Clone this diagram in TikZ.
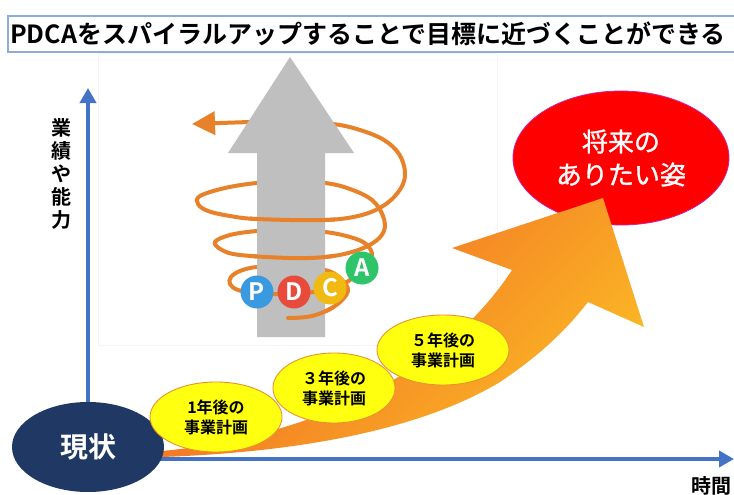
\documentclass[tikz,border=0pt]{standalone}
\usepackage{fontspec}
\setmainfont{Noto Sans CJK JP}[BoldFont={* Bold}]
\newfontfamily\heavyjp{Noto Sans CJK JP}[FakeBold=1.2]
\usetikzlibrary{arrows.meta,shapes.geometric}

\definecolor{axisblue}{HTML}{4472C4}
\definecolor{titleline}{HTML}{8FAADC}
\definecolor{navy}{HTML}{1F3864}
\definecolor{spiralorange}{HTML}{E8822A}
\definecolor{shaftgray}{HTML}{BFBFBF}
\definecolor{planyellow}{HTML}{FFFF10}
\definecolor{planedge}{HTML}{E8922E}
\definecolor{goalred}{HTML}{FF0000}
\definecolor{goaledge}{HTML}{D4209C}
\definecolor{pblue}{HTML}{3A9AE0}
\definecolor{dred}{HTML}{E84A3C}
\definecolor{cyellow}{HTML}{F0BA12}
\definecolor{agreen}{HTML}{2DC46A}
\definecolor{growlow}{HTML}{F06224}
\definecolor{growhigh}{HTML}{FBB925}

% course of the helix around the grey arrow, bottom to top
\newcommand{\spiralcourse}{plot[smooth,tension=0.6] coordinates {
 (288,318) (312,316) (335,306) (348,291) (340,278) (325,270) (290,266)
 (257,267) (240,271) (231,277) (230,284) (238,290) (257,293) (293,294)
 (330,289) (350,280) (362,268) (372,256) (366,244) (350,237) (325,232)
 (290,230) (257,231) (230,235) (215,242) (222,250) (240,255) (290,258)
 (325,257) (352,252) (373,243) (384,231) (383,216) (372,200) (350,189)
 (325,183) (290,182) (257,183) (225,188) (200,196) (198,204) (208,211)
 (230,216) (257,219) (325,220) (362,215) (386,204) (401,188) (405,172)
 (399,154) (384,140) (360,130) (333,124) (290,121) (250,122) (192,124)}}

\begin{document}
\begin{tikzpicture}[x=1pt,y=-1pt,
  axisline/.style={draw=axisblue,line width=3.6pt,-{Triangle[length=15pt,width=16pt]}},
  axislabel/.style={font=\bfseries\fontsize{20}{23}\selectfont,align=center,inner sep=0pt},
  spiralline/.style={draw=spiralorange,line width=4pt,line cap=round},
  pdcadot/.style={circle,minimum size=33pt,inner sep=0pt,text=white,
    font=\bfseries\fontsize{24}{24}\selectfont},
  planoval/.style={ellipse,draw=planedge,line width=0.9pt,fill=planyellow,inner sep=0pt,
    align=center,font=\bfseries\fontsize{16}{20}\selectfont},
]
\useasboundingbox (0,0) rectangle (734,495);
\fill[white] (0,0) rectangle (734,495);

% faint panel behind the PDCA graphic
\draw[black!4,line width=0.6pt] (98,53) rectangle (497,345);

% headline
\draw[titleline,line width=1.5pt,fill=white] (8,16) rectangle (745,52);
\node[inner sep=0pt,font=\bfseries\fontsize{25}{25}\selectfont] (title) at (368,34)
  {PDCAをスパイラルアップすることで目標に近づくことができる};

% axes
\coordinate (origin) at (88,459);
\coordinate (ytop) at (88,88);
\coordinate (xend) at (734,459);
\draw[axisline] (origin) -- (ytop);
\draw[axisline] (origin) -- (xend);
\node[axislabel] (ylabel) at (61,174) {業\\績\\や\\能\\力};
\node[axislabel] (xlabel) at (711,486) {時間};

% helix: full course first, the grey arrow hides its rear parts
\draw[spiralline,-{Triangle[length=23pt,width=23pt]}] \spiralcourse;
\fill[shaftgray] (290,57) -- (354,153) -- (325,153) -- (325,337)
  -- (257,337) -- (257,153) -- (228,153) -- cycle;
% front parts of the helix pass over the arrow
\begin{scope}
  \clip (250,305) rectangle (335,332)
        (250,280) rectangle (335,304)
        (250,246) rectangle (335,261)
        (250,209) rectangle (335,226);
  \draw[spiralline] \spiralcourse;
\end{scope}
\node[pdcadot,fill=pblue]   (P) at (257,292) {P};
\node[pdcadot,fill=dred]    (D) at (294,292) {D};
\node[pdcadot,fill=cyellow] (C) at (330,288) {C};
\node[pdcadot,fill=agreen]  (A) at (362,268) {A};

% goal
\node[ellipse,fill=goalred,draw=goaledge,line width=0.8pt,minimum width=216pt,
  minimum height=134pt,inner sep=0pt,text=white,align=center,
  font=\heavyjp\fontsize{26}{33}\selectfont] (goal) at (621,158) {将来の\\ありたい姿};

% growth arrow from the present state to the goal
\shade[left color=growlow,right color=growhigh,shading angle=45]
  (162,451) .. controls (300,438) and (440,380) .. (512,270)
  -- (452,248) -- (603,198) -- (644,327) -- (588,302)
  .. controls (570,325) and (545,352) .. (500,382)
  .. controls (420,430) and (300,452) .. (162,457) -- cycle;

% present state
\node[ellipse,fill=navy,minimum width=152pt,minimum height=90pt,inner sep=0pt,
  text=white,font=\bfseries\fontsize{28}{28}\selectfont] (now) at (88,447) {現状};

% business plans along the way
\node[planoval,minimum width=132pt,minimum height=70pt] (plan1) at (216,417) {1年後の\\事業計画};
\node[planoval,minimum width=122pt,minimum height=70pt] (plan3) at (334,388) {３年後の\\事業計画};
\node[planoval,minimum width=132pt,minimum height=70pt] (plan5) at (443,350) {５年後の\\事業計画};
\end{tikzpicture}
\end{document}
